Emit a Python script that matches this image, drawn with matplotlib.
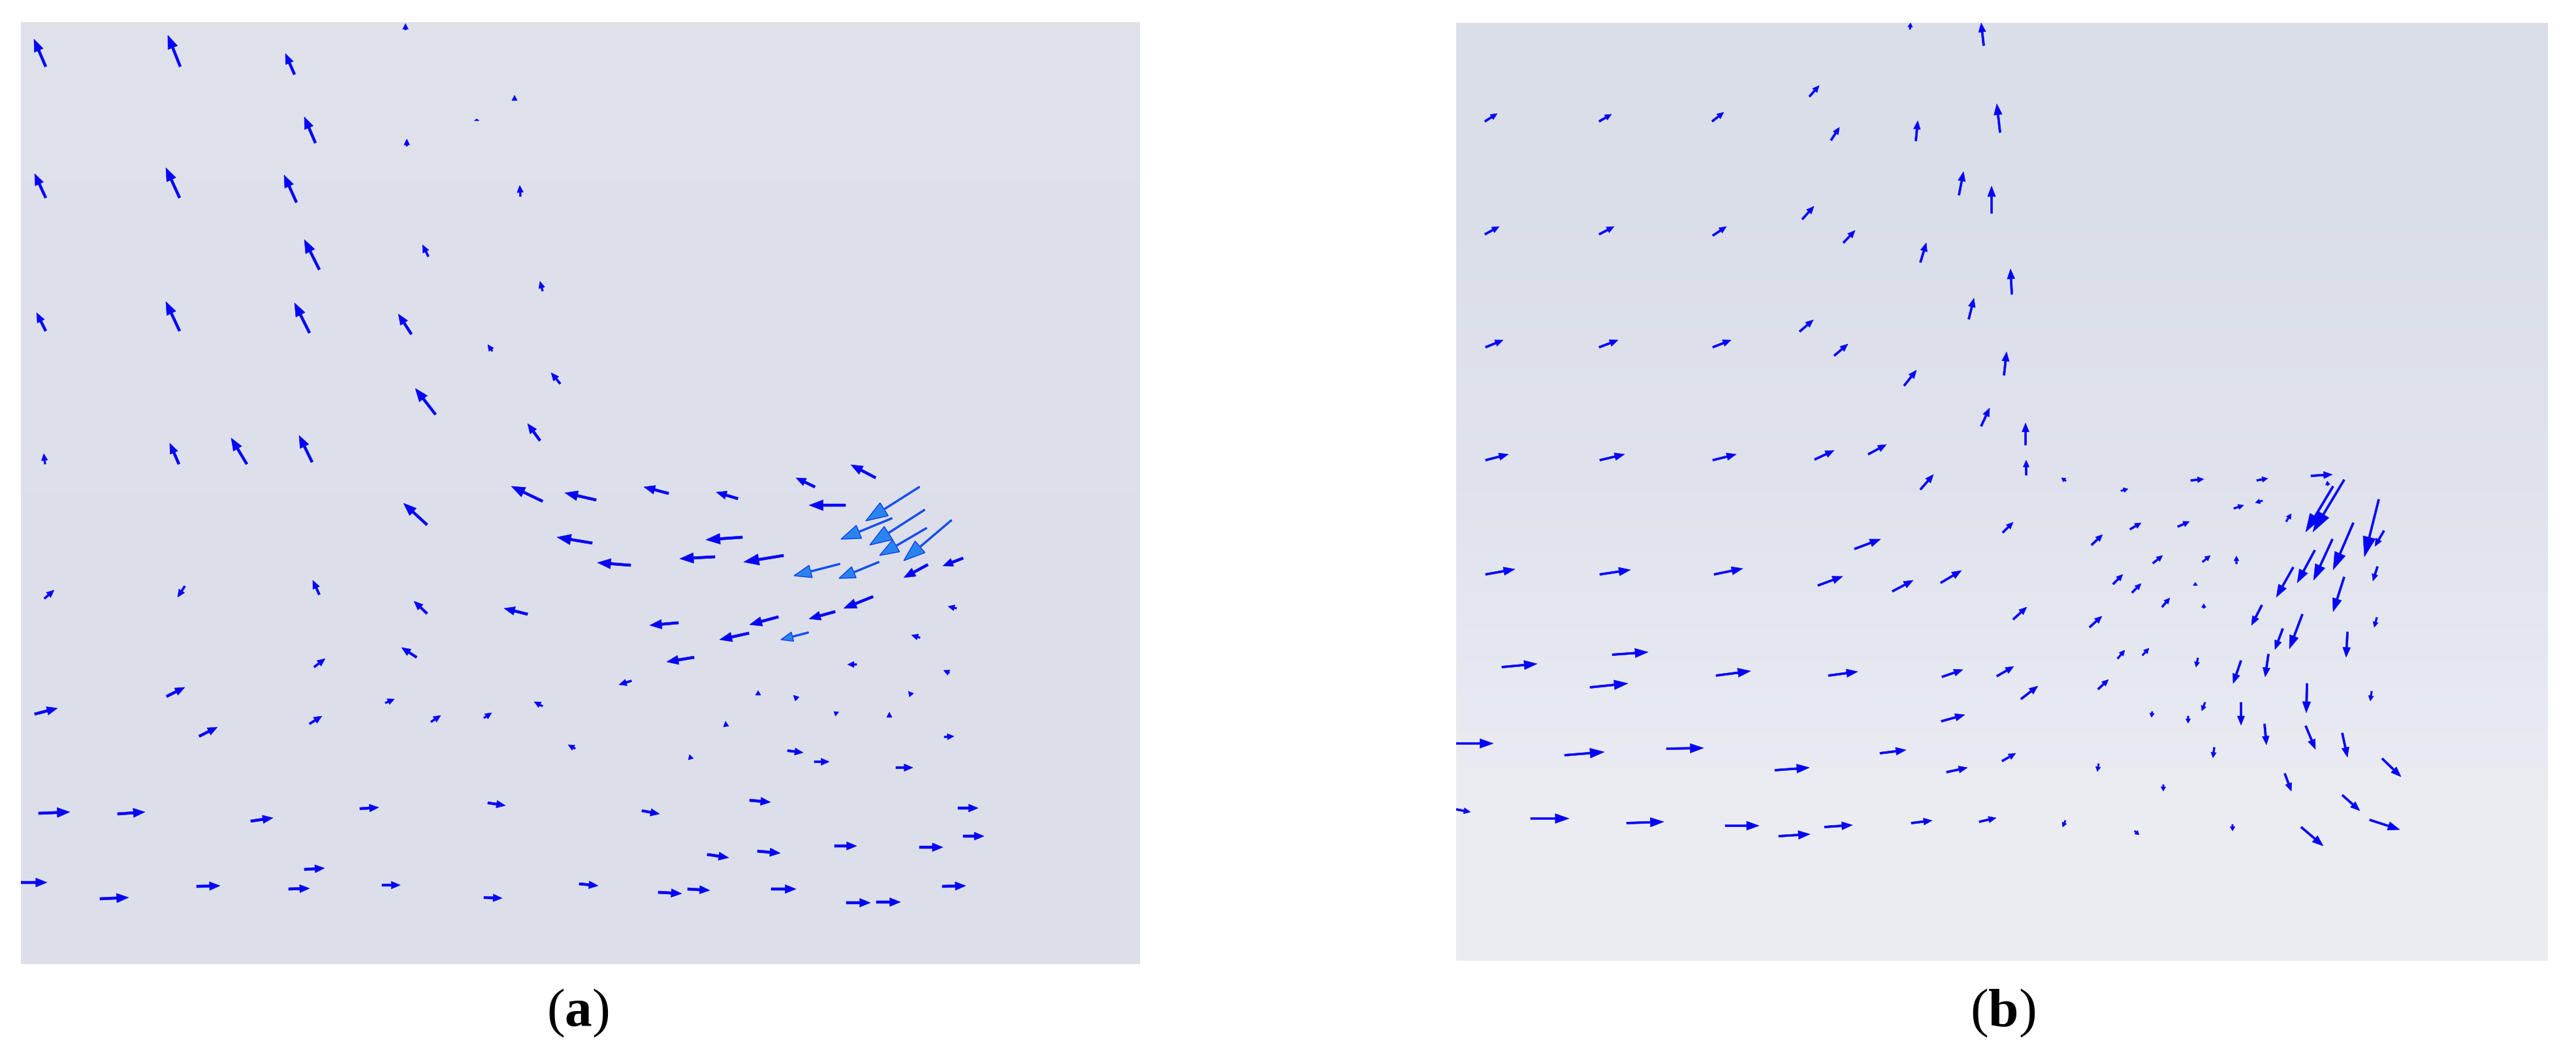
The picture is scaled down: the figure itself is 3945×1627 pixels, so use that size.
"""
Velocity vector fields in a T-shaped domain, panels (a) and (b)
"""

import numpy as np
import matplotlib
matplotlib.use('Agg')
import matplotlib.pyplot as plt
from matplotlib.colors import LinearSegmentedColormap

# Panel (a) arrows, image pixels (tail x, tail y, tip x, tip y)
xa_tail = [70, 276, 451, 621, 788, 730, 623, 483, 70, 275,
           454, 797, 489, 656, 831, 70, 275, 474, 630, 754,
           858, 667, 827, 69, 274, 378, 478, 831, 913, 654,
           1024, 1130, 1248, 1341, 1295, 1408, 1366, 1416, 1419, 1457,
           1137, 907, 1095, 966, 1200, 1286, 1346, 1421, 1475, 1337,
           1465, 1279, 1192, 1039, 1147, 1238, 1063, 1409, 967, 1312,
           1454, 1161, 1221, 1396, 1282, 1362, 1112, 1446, 68, 283,
           489, 654, 808, 481, 638, 255, 53, 305, 474, 590,
           660, 741, 831, 881, 59, 180, 384, 551, 747, 466,
           32, 153, 301, 442, 585, 741, 887, 1058, 1206, 1247,
           1372, 983, 1148, 1467, 1475, 1083, 1160, 1278, 1408, 1008,
           1053, 1181, 1296, 1342, 1443]
ya_tail = [102, 102, 114, 46, 154, 185, 224, 219, 303, 303,
           310, 301, 413, 393, 446, 507, 507, 510, 512, 538,
           588, 635, 675, 711, 711, 711, 708, 768, 766, 804,
           756, 764, 746, 732, 774, 746, 794, 781, 809, 797,
           823, 832, 853, 866, 851, 864, 861, 865, 855, 914,
           932, 937, 945, 954, 970, 969, 1007, 977, 1043, 1018,
           1031, 1065, 1071, 1065, 1094, 1099, 1113, 1129, 917, 898,
           911, 940, 941, 1022, 1007, 1067, 1094, 1128, 1109, 1077,
           1106, 1100, 1082, 1147, 1246, 1247, 1258, 1239, 1230, 1332,
           1352, 1377, 1358, 1362, 1356, 1375, 1354, 1163, 1150, 1167,
           1176, 1242, 1226, 1238, 1281, 1309, 1304, 1296, 1298, 1367,
           1362, 1362, 1383, 1382, 1358]
xa_tip = [52, 257, 437, 621, 788, 730, 623, 466, 53, 254,
          435, 796, 466, 647, 827, 56, 254, 451, 610, 747,
          844, 636, 808, 67, 260, 354, 458, 783, 865, 618,
          986, 1097, 1219, 1303, 1239, 1326, 1288, 1332, 1347, 1384,
          1081, 853, 1041, 915, 1139, 1216, 1285, 1384, 1444, 1292,
          1452, 1239, 1148, 995, 1102, 1196, 1021, 1396, 948, 1298,
          1445, 1161, 1215, 1391, 1277, 1362, 1111, 1461, 83, 272,
          479, 634, 772, 498, 615, 283, 88, 333, 493, 604,
          675, 753, 818, 870, 107, 222, 418, 580, 774, 497,
          72, 197, 337, 474, 613, 769, 916, 1056, 1230, 1270,
          1398, 1010, 1180, 1498, 1507, 1116, 1195, 1312, 1444, 1044,
          1087, 1219, 1333, 1379, 1479]
ya_tip = [60, 54, 82, 36, 146, 182, 213, 179, 266, 257,
          268, 284, 367, 375, 431, 479, 462, 464, 481, 528,
          571, 595, 649, 695, 679, 671, 667, 745, 755, 771,
          746, 754, 732, 712, 774, 798, 826, 835, 851, 859,
          827, 823, 856, 862, 861, 882, 886, 885, 867, 932,
          929, 948, 957, 958, 980, 980, 1014, 973, 1049, 1018,
          1027, 1058, 1065, 1059, 1090, 1091, 1105, 1128, 904, 915,
          889, 921, 932, 1009, 992, 1053, 1085, 1114, 1097, 1071,
          1096, 1092, 1075, 1141, 1244, 1244, 1253, 1237, 1234, 1330,
          1352, 1375, 1357, 1361, 1356, 1376, 1357, 1156, 1153, 1167,
          1176, 1247, 1229, 1238, 1281, 1314, 1307, 1296, 1298, 1369,
          1364, 1362, 1383, 1382, 1357]
# the arrows drawn in the lighter blue
a_light = [35, 36, 37, 38, 39, 45, 46, 55]

# Panel (b) arrows
xb_tail = [2925, 3038, 2771, 2274, 2449, 2622, 2804, 2934, 3063, 3000,
           3050, 2760, 2274, 2449, 2623, 2823, 2941, 3081, 3015, 2756,
           2275, 2449, 2623, 2809, 3069, 2916, 3034, 2275, 2450, 2623,
           2779, 2861, 2941, 3103, 3102, 3067, 3164, 3355, 3456, 3539,
           3565, 3248, 3590, 3573, 3421, 3465, 3501, 3262, 3335, 3203,
           3643, 3651, 3604, 3572, 3545, 3512, 3297, 3373, 3425, 3641,
           3236, 3265, 3362, 3590, 3311, 3375, 3464, 3083, 3200, 3640,
           3496, 3526, 3595, 3243, 3281, 3366, 3432, 3474, 3213, 3095,
           3632, 3533, 3432, 3377, 3296, 3351, 3468, 3531, 3587, 3391,
           3648, 3214, 3499, 3313, 3587, 3629, 3524, 3419, 3163, 3269,
           2275, 2450, 2625, 2840, 2784, 2898, 2972, 2300, 2469, 2435,
           2628, 2800, 2974, 3058, 2973, 2230, 2396, 2552, 2718, 2879,
           2981, 3066, 2230, 2344, 2491, 2642, 2724, 2794, 2927, 3031]
yb_tail = [45, 70, 148, 186, 186, 186, 215, 216, 203, 299,
           327, 336, 359, 359, 361, 372, 402, 451, 489, 508,
           532, 532, 532, 545, 575, 591, 653, 705, 705, 705,
           704, 696, 750, 728, 682, 816, 737, 736, 736, 729,
           744, 752, 735, 745, 779, 767, 799, 811, 807, 835,
           765, 813, 801, 826, 843, 869, 863, 861, 864, 868,
           895, 908, 897, 884, 930, 932, 927, 949, 961, 946,
           963, 941, 968, 1009, 1004, 1008, 1012, 1002, 1056, 1071,
           1059, 1047, 1076, 1076, 1090, 1097, 1109, 1112, 1123, 1145,
           1162, 1170, 1185, 1202, 1218, 1256, 1267, 1263, 1257, 1273,
           880, 880, 880, 841, 897, 906, 893, 1022, 1003, 1053,
           1035, 1035, 1037, 1036, 1105, 1139, 1157, 1147, 1180, 1154,
           1183, 1166, 1240, 1254, 1261, 1265, 1281, 1267, 1261, 1259]
xb_tip = [2926, 3034, 2786, 2293, 2468, 2640, 2817, 2937, 3058, 3007,
          3050, 2778, 2296, 2472, 2644, 2841, 2950, 3079, 3023, 2777,
          2302, 2478, 2651, 2830, 3073, 2935, 3047, 2310, 2488, 2659,
          2809, 2889, 2961, 3103, 3102, 3083, 3157, 3375, 3473, 3572,
          3564, 3259, 3542, 3531, 3436, 3454, 3509, 3279, 3353, 3220,
          3621, 3637, 3573, 3543, 3518, 3486, 3312, 3385, 3425, 3634,
          3251, 3279, 3362, 3573, 3323, 3375, 3448, 3104, 3219, 3636,
          3484, 3506, 3593, 3254, 3291, 3363, 3420, 3469, 3229, 3121,
          3630, 3532, 3432, 3372, 3295, 3351, 3471, 3546, 3595, 3389,
          3677, 3212, 3509, 3313, 3614, 3675, 3558, 3419, 3159, 3276,
          2320, 2497, 2669, 2880, 2822, 2930, 3004, 2354, 2524, 2493,
          2681, 2845, 3006, 3084, 3009, 2287, 2457, 2609, 2771, 2919,
          3013, 3087, 2252, 2403, 2548, 2694, 2772, 2837, 2959, 3057]
yb_tip = [35, 35, 131, 174, 175, 172, 195, 185, 159, 263,
          285, 316, 347, 347, 347, 353, 372, 412, 457, 490,
          521, 521, 521, 527, 539, 567, 625, 696, 696, 696,
          690, 681, 727, 705, 648, 800, 732, 734, 733, 727,
          737, 749, 815, 815, 774, 770, 787, 801, 799, 819,
          853, 837, 873, 889, 893, 915, 851, 851, 852, 890,
          880, 894, 892, 937, 916, 925, 958, 930, 944, 961,
          995, 994, 1007, 996, 993, 1022, 1047, 1037, 1041, 1051,
          1074, 1092, 1111, 1089, 1099, 1108, 1141, 1148, 1160, 1161,
          1190, 1182, 1212, 1212, 1242, 1271, 1296, 1273, 1267, 1279,
          872, 873, 871, 826, 883, 889, 874, 1017, 999, 1047,
          1028, 1029, 1026, 1021, 1095, 1139, 1152, 1146, 1176, 1149,
          1176, 1154, 1244, 1254, 1259, 1265, 1278, 1264, 1257, 1253]

# Background shades, top to bottom
bg_a = ['#dee1ea', '#dde0ea', '#dcdfe9']
bg_b = ['#dadee9', '#e0e3ed', '#ebecf2']

W, H = 3945, 1627
BLUE = '#0505f5'
LIGHT = '#2a84ee'

plt.rcParams['font.family'] = ['Liberation Serif', 'DejaVu Serif']
plt.rcParams['mathtext.fontset'] = 'custom'
plt.rcParams['mathtext.bf'] = 'Liberation Serif:bold'


def draw_panel(box, bg, x0, y0, x1, y1, light, hl, hw, shaft):
    left, top, right, bottom = box
    ax = fig.add_axes([left / W, 1 - bottom / H, (right - left) / W, (bottom - top) / H])
    cmap = LinearSegmentedColormap.from_list('bg', bg)
    ax.imshow(np.array([[0.0], [0.5], [1.0]]), cmap=cmap, aspect='auto', interpolation='bilinear',
              extent=(left, right, bottom, top))
    x0, y0 = np.array(x0, float), np.array(y0, float)
    u, v = np.array(x1) - x0, np.array(y1) - y0
    for i in range(len(x0)):
        length = np.hypot(u[i], v[i])
        width = min(shaft, 1.5 + length * 0.08)
        if i in light:
            fc, ec, lw = LIGHT, '#0a3cf0', 1.0
            width = 2.0
        else:
            fc, ec, lw = BLUE, BLUE, 0.4
        ax.arrow(x0[i], y0[i], u[i], v[i], width=width,
                 head_width=hw[0] + hw[1] * length, head_length=min(hl[0] + hl[1] * length, length),
                 length_includes_head=True, fc=fc, ec=ec, lw=lw)
    ax.set_xlim(left, right)
    ax.set_ylim(bottom, top)
    ax.axis('off')


fig = plt.figure(figsize=(W / 100, H / 100), dpi=100, facecolor='white')

draw_panel((32, 34, 1746, 1477), bg_a, xa_tail, ya_tail, xa_tip, ya_tip, a_light, (6, 0.28), (7, 0.17), 4.0)
draw_panel((2230, 35, 3902, 1472), bg_b, xb_tail, yb_tail, xb_tip, yb_tip, [], (3.5, 0.3), (6, 0.15), 3.2)

# Panel captions
fig.text(885 / W, 1 - 1552 / H, r'($\mathbf{a}$)', ha='center', va='center', fontsize=60, color='black')
fig.text(3067 / W, 1 - 1552 / H, r'($\mathbf{b}$)', ha='center', va='center', fontsize=60, color='black')

fig.savefig('out.png', dpi=100)
